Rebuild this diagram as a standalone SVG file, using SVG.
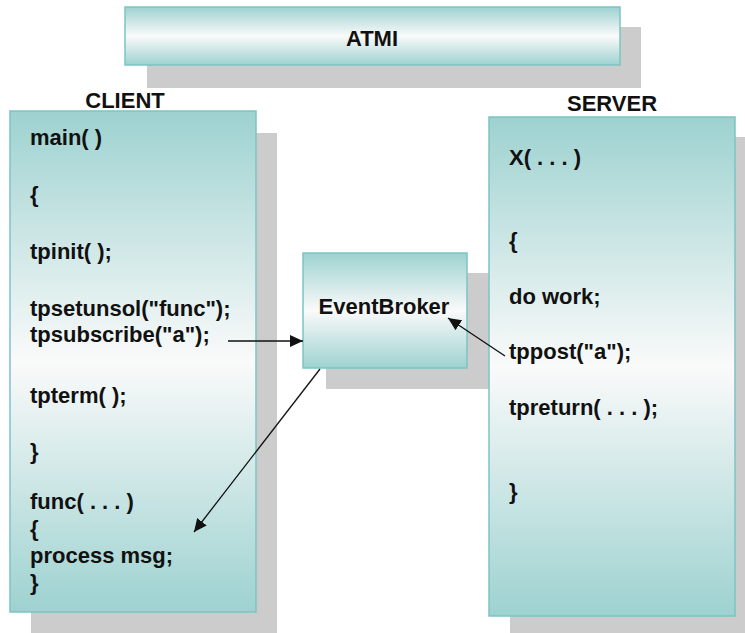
<svg xmlns="http://www.w3.org/2000/svg" width="745" height="633" viewBox="0 0 745 633">
<style>
  .shadow { fill: #cccccc; }
  .box { fill: url(#tealGrad); stroke: #7cc3c2; stroke-width: 1.5; }
  .t { font-family: "Liberation Sans", Arial, sans-serif; font-weight: bold; font-size: 22px; fill: #111111; }
  .mid { text-anchor: middle; }
  .conn { stroke: #111111; stroke-width: 1.3; fill: none; marker-end: url(#arrow); }
</style>
<defs>
  <linearGradient id="tealGrad" x1="0" y1="0" x2="0" y2="1">
    <stop offset="0" stop-color="#9dd2d0"/>
    <stop offset="0.5" stop-color="#fafafa"/>
    <stop offset="1" stop-color="#9dd2d0"/>
  </linearGradient>
  <marker id="arrow" markerUnits="userSpaceOnUse" markerWidth="14" markerHeight="12" refX="13" refY="6" orient="auto">
    <path d="M0,0 L13,6 L0,12 Z" fill="#111111"/>
  </marker>
</defs>
<rect width="745" height="633" fill="#ffffff"/>

<g id="atmi">
  <rect class="shadow" x="147" y="27" width="494" height="61"/>
  <rect class="box" x="125" y="7" width="495" height="58"/>
  <text class="t mid" x="372" y="46">ATMI</text>
</g>

<g id="client">
  <rect class="shadow" x="31" y="133" width="246" height="500"/>
  <rect class="box" x="10" y="111" width="246" height="501"/>
  <text class="t mid" x="125" y="108">CLIENT</text>
  <text class="t" x="30" y="145">main( )</text>
  <text class="t" x="30" y="202">{</text>
  <text class="t" x="30" y="259">tpinit( );</text>
  <text class="t" x="30" y="316">tpsetunsol(&quot;func&quot;);</text>
  <text class="t" x="30" y="342">tpsubscribe(&quot;a&quot;);</text>
  <text class="t" x="30" y="403">tpterm( );</text>
  <text class="t" x="30" y="459">}</text>
  <text class="t" x="30" y="509">func( . . . )</text>
  <text class="t" x="30" y="536">{</text>
  <text class="t" x="30" y="563">process msg;</text>
  <text class="t" x="30" y="590">}</text>
</g>

<g id="eventbroker">
  <rect class="shadow" x="326" y="273" width="164" height="116"/>
  <rect class="box" x="303" y="253" width="164" height="115"/>
  <text class="t mid" x="384" y="314">EventBroker</text>
</g>

<g id="server">
  <rect class="shadow" x="510" y="137" width="235" height="496"/>
  <rect class="box" x="489" y="117" width="246" height="499"/>
  <text class="t mid" x="612" y="111">SERVER</text>
  <text class="t" x="509" y="165">X( . . . )</text>
  <text class="t" x="509" y="248">{</text>
  <text class="t" x="509" y="304">do work;</text>
  <text class="t" x="509" y="359">tppost(&quot;a&quot;);</text>
  <text class="t" x="509" y="415">tpreturn( . . . );</text>
  <text class="t" x="509" y="499">}</text>
</g>

<g id="connectors">
  <line class="conn" x1="228" y1="341" x2="303" y2="341"/>
  <line class="conn" x1="505" y1="356" x2="448" y2="318"/>
  <line class="conn" x1="320" y1="369" x2="194" y2="532"/>
</g>
</svg>
